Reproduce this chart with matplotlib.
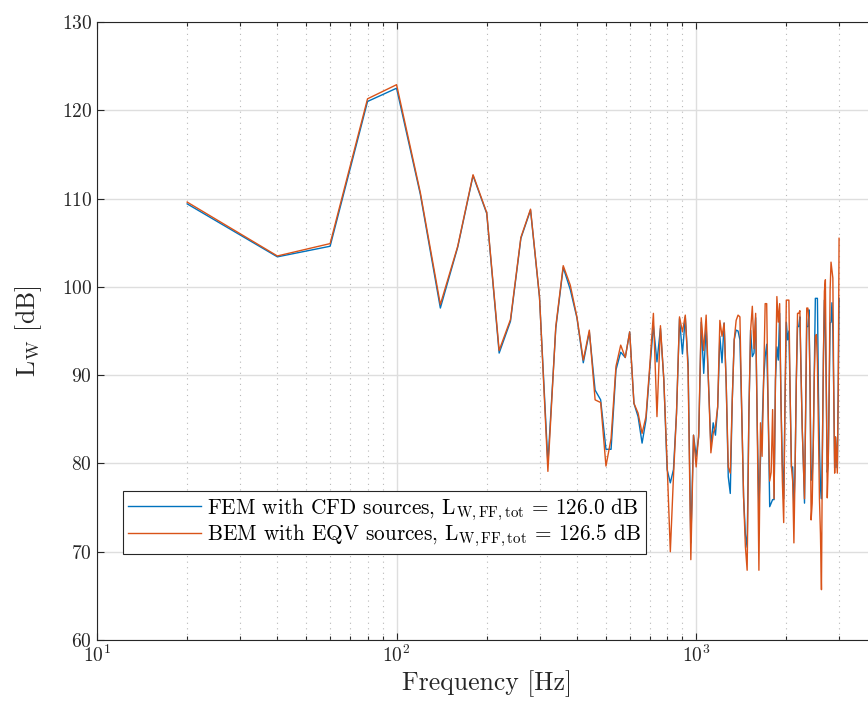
import numpy as np
import matplotlib
matplotlib.use("Agg")
import matplotlib.pyplot as plt
import matplotlib.ticker as mticker

plt.rcParams["font.family"] = "serif"
plt.rcParams["font.serif"] = ["cmr10", "DejaVu Serif"]
plt.rcParams["mathtext.fontset"] = "cm"
plt.rcParams["axes.formatter.use_mathtext"] = True

BLUE = "#0072BD"
ORANGE = "#D95319"
DARK = "#262626"

# frequency grid, 20 Hz steps
freq = np.arange(20, 3001, 20)

fem_cfd = [
    109.4, 103.4, 104.6, 121.0, 122.5, 110.5, 97.6, 104.5, 112.6, 108.3,
    92.5, 96.1, 105.5, 108.7, 98.8, 80.0, 95.3, 102.2, 99.7, 96.5,
    91.4, 94.9, 88.3, 87.2, 81.6, 81.6, 90.6, 92.6, 92.0, 94.9,
    86.8, 85.3, 82.3, 84.9, 90.6, 95.6, 91.5, 95.3, 89.5, 79.3,
    77.8, 79.3, 85.7, 96.4, 92.4, 96.6, 91.3, 71.0, 83.2, 80.8,
    83.0, 96.0, 90.2, 95.5, 89.0, 82.0, 84.6, 83.2, 86.4, 94.4,
    91.4, 95.9, 89.0, 78.5, 76.6, 87.2, 94.0, 95.1, 95.0, 94.0,
    85.7, 76.2, 72.0, 70.5, 85.7, 95.1, 92.1, 92.5, 96.5, 84.0,
    75.0, 80.5, 84.0, 89.5, 92.1, 93.5, 85.7, 75.1, 75.5, 75.9,
    75.9, 89.5, 93.2, 91.7, 97.0, 86.8, 80.0, 76.0, 87.0, 96.0,
    94.0, 95.0, 87.6, 79.6, 79.6, 75.0, 79.6, 89.5, 95.5, 95.5,
    96.6, 90.0, 84.0, 80.0, 75.5, 86.0, 95.5, 95.5, 97.4, 89.0,
    78.1, 78.3, 82.0, 90.0, 98.7, 98.7, 98.7, 88.0, 82.0, 77.4,
    76.0, 82.0, 92.0, 98.5, 95.1, 88.0, 79.0, 80.0, 88.0, 95.9,
    96.0, 98.2, 95.0, 88.0, 79.5, 83.0, 81.0, 79.5, 88.0, 98.7,
]

bem_eqv = [
    109.6, 103.5, 104.9, 121.3, 122.9, 110.7, 98.0, 104.6, 112.7, 108.4,
    92.8, 96.3, 105.6, 108.8, 98.9, 79.1, 95.5, 102.4, 100.2, 96.6,
    91.7, 95.1, 87.2, 86.9, 79.7, 82.8, 91.0, 93.4, 92.0, 94.9,
    86.8, 85.7, 83.4, 85.3, 91.0, 97.0, 85.3, 95.6, 89.5, 80.0,
    70.0, 78.5, 85.7, 96.6, 94.9, 96.8, 90.6, 69.1, 83.2, 79.6,
    83.4, 96.5, 92.8, 96.8, 89.0, 81.2, 83.4, 84.2, 86.4, 96.2,
    94.4, 95.9, 89.0, 79.6, 78.9, 87.2, 94.0, 96.2, 96.8, 96.6,
    85.7, 76.2, 70.6, 67.9, 85.7, 95.1, 97.8, 93.0, 97.0, 84.0,
    67.9, 84.6, 80.8, 89.5, 98.1, 98.1, 85.7, 78.0, 79.0, 86.1,
    76.0, 89.5, 98.9, 96.0, 98.1, 86.8, 78.0, 73.3, 87.0, 98.5,
    98.5, 98.5, 87.6, 79.6, 78.0, 71.0, 79.6, 89.5, 97.0, 97.0,
    97.3, 90.0, 84.0, 80.0, 76.0, 86.0, 97.6, 97.6, 96.2, 89.0,
    73.6, 75.5, 82.0, 90.0, 94.4, 94.6, 91.4, 84.0, 76.0, 72.0,
    65.7, 82.0, 92.0, 99.5, 100.8, 88.0, 76.1, 80.0, 88.0, 99.6,
    102.8, 101.9, 101.0, 88.0, 78.9, 83.0, 81.0, 78.9, 88.0, 105.5,
]

labels = [
    r"FEM with CFD sources, $\mathrm{L_{W,FF,tot}}$ = 126.0 dB",
    r"BEM with EQV sources, $\mathrm{L_{W,FF,tot}}$ = 126.5 dB",
]
xticks = [10, 100, 1000]
xtick_labels = [r"$10^{1}$", r"$10^{2}$", r"$10^{3}$"]

fig = plt.figure(figsize=(8.68, 7.11), dpi=100)
# right edge of the axes sits just outside the picture, as in the original
ax = fig.add_axes([97 / 868, 71 / 711, 779.5 / 868, 618 / 711])

ax.semilogx(freq, fem_cfd, color=BLUE, lw=1.0, label=labels[0])
ax.semilogx(freq, bem_eqv, color=ORANGE, lw=1.0, label=labels[1])

ax.set_xlim(10, 4000)
ax.set_ylim(60, 130)
ax.set_yticks(np.arange(60, 131, 10))
ax.set_xticks(xticks)
ax.set_xticklabels(xtick_labels)
ax.xaxis.set_minor_locator(mticker.LogLocator(base=10, subs=np.arange(2, 10), numticks=20))
ax.xaxis.set_minor_formatter(mticker.NullFormatter())

ax.grid(which="major", color="#dedede", lw=1.0)
ax.grid(which="minor", axis="x", color="#b8b8b8", lw=0.8, ls=(0, (1, 4)))
ax.set_axisbelow(True)

ax.tick_params(which="both", direction="in", top=True, right=True, colors=DARK,
               labelsize=14, width=0.8)
ax.tick_params(which="major", length=5)
ax.tick_params(which="minor", length=3)
for s in ax.spines.values():
    s.set_color(DARK)
    s.set_linewidth(0.8)

ax.set_xlabel("Frequency [Hz]", fontsize=18.5, color=DARK, labelpad=3)
ax.set_ylabel(r"$\mathrm{L_W}$ [dB]", fontsize=18.5, color=DARK, labelpad=13)

leg = ax.legend(loc="upper left", bbox_to_anchor=(26 / 779.5, 149 / 618), fontsize=15.3,
                handlelength=3.4, handletextpad=0.3, borderpad=0.25,
                labelspacing=0.0, fancybox=False, framealpha=1.0,
                edgecolor=DARK, borderaxespad=0)
leg.get_frame().set_linewidth(0.8)

fig.savefig("out.png", dpi=100, facecolor="white")
